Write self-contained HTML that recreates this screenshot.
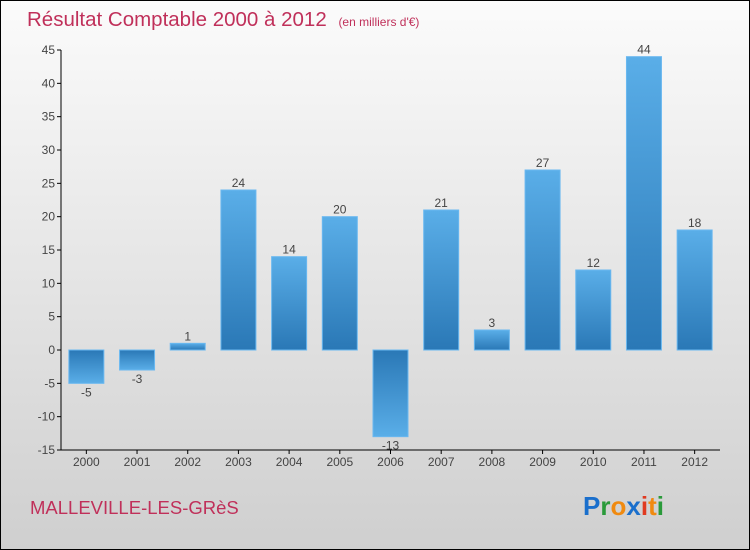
<!DOCTYPE html>
<html><head><meta charset="utf-8"><style>
body{margin:0}
svg{display:block;font-family:"Liberation Sans",sans-serif}
</style></head><body>
<svg id="c" width="750" height="550" viewBox="0 0 750 550">
<defs>
<linearGradient id="bg" x1="0" y1="0" x2="0" y2="1"><stop offset="0" stop-color="#fbfbfb"/><stop offset="1" stop-color="#cfcfcf"/></linearGradient>
<linearGradient id="gp" x1="0" y1="0" x2="0" y2="1"><stop offset="0" stop-color="#5aaee8"/><stop offset="1" stop-color="#2a78b6"/></linearGradient>
<linearGradient id="gn" x1="0" y1="0" x2="0" y2="1"><stop offset="0" stop-color="#2a78b6"/><stop offset="1" stop-color="#5aaee8"/></linearGradient>
</defs>
<rect x="0.5" y="0.5" width="749" height="549" fill="url(#bg)" stroke="#000"/>
<text x="27" y="26" font-size="20.5" fill="#c0305a">Résultat Comptable 2000 à 2012 <tspan font-size="12" dx="6">(en milliers d'€)</tspan></text>
<text x="30" y="514" font-size="18.5" fill="#c0305a">MALLEVILLE-LES-GRèS</text>
<text x="583" y="515" font-size="26" font-weight="bold"><tspan fill="#1a6fcc">P</tspan><tspan fill="#2a9a3a">r</tspan><tspan fill="#f08a10">o</tspan><tspan fill="#1a6fcc">x</tspan><tspan fill="#e03a20">i</tspan><tspan fill="#f08a10">t</tspan><tspan fill="#2a9a3a">i</tspan></text>
<g id="plot"></g>
</svg>
<script>
const categories=["2000","2001","2002","2003","2004","2005","2006","2007","2008","2009","2010","2011","2012"];
const values=[-5,-3,1,24,14,20,-13,21,3,27,12,44,18];
const yTicks=[-15,-10,-5,0,5,10,15,20,25,30,35,40,45];
const X0=61,X1=720,Y0=450,Y1=50,ymin=-15,ymax=45;
const step=(X1-X0)/categories.length;
const xc=i=>X0+step*(i+0.5);
const y=v=>Y0-(v-ymin)/(ymax-ymin)*(Y0-Y1);
const g=document.getElementById('plot');
const NS='http://www.w3.org/2000/svg';
function mk(t,a){const e=document.createElementNS(NS,t);for(const k in a)e.setAttribute(k,a[k]);g.appendChild(e);return e;}
values.forEach((v,i)=>{
 const top=Math.min(y(v),y(0)),h=Math.abs(y(v)-y(0));
 const r=mk('rect',{x:xc(i)-17.5,y:top,width:35,height:Math.max(h,1),fill:v>=0?'url(#gp)':'url(#gn)',stroke:'#6ab8f0','stroke-width':1});
 
 
 const t=mk('text',{x:xc(i),y:v>=0?top-3:top+h+13,'text-anchor':'middle','font-size':12,fill:'#444'});
 t.textContent=v;
 
 
 const tk=mk('line',{x1:xc(i),x2:xc(i),y1:Y0,y2:Y0+4,stroke:'#000'});
 
 
 const xl=mk('text',{x:xc(i),y:Y0+16,'text-anchor':'middle','font-size':12,fill:'#444'});
 xl.textContent=categories[i];
 
 
});
yTicks.forEach(v=>{
 const l=mk('line',{x1:X0-4,x2:X0,y1:y(v),y2:y(v),stroke:'#000'});
 
 
 const t=mk('text',{x:X0-6,y:y(v)+4,'text-anchor':'end','font-size':12,fill:'#444'});
 t.textContent=v;
 
 
});
const ya=mk('line',{x1:X0,x2:X0,y1:Y1,y2:Y0,stroke:'#000'});


const xa=mk('line',{x1:X0,x2:X1,y1:Y0,y2:Y0,stroke:'#000'});


</script>
</body></html>
